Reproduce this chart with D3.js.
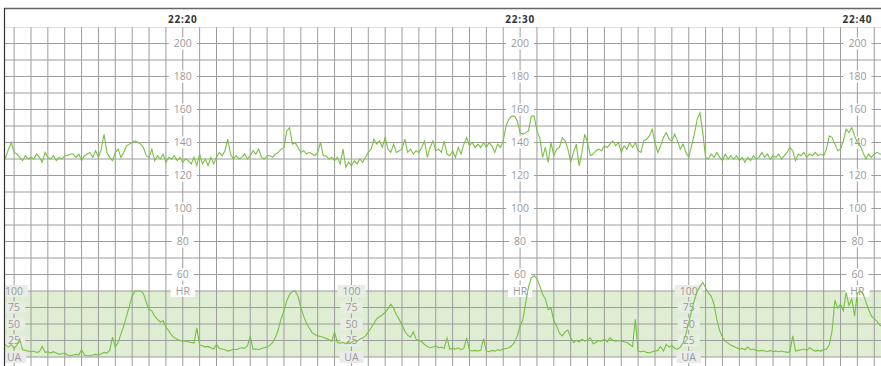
<!DOCTYPE html>
<html><head><meta charset="utf-8">
<script src="https://cdn.jsdelivr.net/npm/d3@7"></script>
<style>html,body{margin:0;padding:0;background:#fff;overflow:hidden}</style>
</head><body>
<svg id="c" width="881" height="366"></svg>
<script>
// ---- data ----
const startTime = "22:14:40";
const stepSeconds = 5;
const fhr = [
132,131,136,140,134,133,131,129,132,130,
131,130,133,131,128,134,131,130,132,129,
131,130,132,132,133,133,131,133,129,132,
133,134,131,135,131,136,145,134,131,129,
134,136,131,134,138,139,140,141,140,139,
137,132,131,136,129,132,130,133,128,131,
130,132,129,131,128,130,129,127,131,126,
133,127,130,126,131,127,131,134,132,135,
142,133,130,132,130,131,133,130,132,135,
133,136,131,130,132,132,131,133,134,136,
137,147,149,139,140,137,134,135,133,134,
133,132,134,140,132,132,130,131,129,131,
127,136,125,128,126,129,127,130,128,131,
134,136,142,139,141,137,143,136,134,139,
134,135,136,142,134,136,133,135,134,137,
141,131,137,141,135,136,134,141,133,132,
135,131,137,133,139,143,138,140,137,139,
137,140,137,140,138,134,139,137,141,150,
154,156,156,153,146,145,146,147,156,156,
147,143,131,137,128,140,132,136,137,143,
141,136,128,134,139,126,134,145,140,132,
133,135,136,135,138,137,139,141,138,140,
134,138,136,140,137,140,135,134,141,142,
144,148,140,134,138,143,146,142,141,145,
141,136,139,134,131,138,145,154,158,146,
131,130,133,131,134,131,129,133,130,132,
130,132,129,131,128,131,129,132,130,131,
134,131,133,130,132,131,133,130,132,134,
137,135,129,133,132,134,131,133,132,134,
132,133,132,136,144,143,139,135,136,141,
148,146,149,144,140,138,134,130,133,131,133,134,133,133];
const ua = [
21,18,15,19,13,18,27,11,10,9,
8,9,7,8,16,7,8,6,8,6,
4,5,6,3,2,3,4,3,11,3,
2,2,3,4,3,5,7,6,10,30,
15,22,35,47,62,77,92,100,100,100,
96,83,72,70,62,57,53,55,45,40,
33,29,27,25,24,24,23,22,21,44,
18,17,15,16,14,12,19,13,12,11,
9,10,12,11,13,14,13,17,31,12,
12,11,13,14,15,18,22,30,42,58,
70,85,95,99,100,92,75,62,51,44,
37,34,32,31,30,28,26,24,38,22,
21,22,20,23,22,25,24,27,29,32,
38,44,51,58,61,64,68,73,80,74,
64,57,49,39,33,30,38,27,25,23,
19,16,14,15,17,14,15,13,29,12,
13,12,14,11,13,29,10,9,10,9,
10,28,9,8,10,9,11,10,12,13,
14,17,22,32,47,57,82,106,120,123,
119,108,95,88,72,74,55,47,36,32,
38,41,29,22,25,23,27,24,26,29,
20,22,25,24,27,23,29,25,24,25,
24,23,22,19,16,57,9,8,9,7,
6,8,9,10,16,9,19,15,17,13,
12,15,22,35,52,70,86,99,107,113,
105,97,92,80,57,40,30,24,21,18,
16,14,12,13,11,15,11,12,10,9,
10,9,8,10,8,9,8,9,8,7,
8,32,9,10,11,12,10,14,11,9,
10,9,11,12,18,40,86,74,80,70,
98,78,88,62,97,100,96,84,72,62,58,54,48,46];
const timeLabels = ["22:20","22:30","22:40"];
const uaAxisTimes = ["22:15","22:25","22:35"];
const hrTicks = [60,80,100,120,140,160,180,200];
const hrAxisName = "HR";
const uaTicks = [25,50,75,100];
const uaAxisName = "UA";
const viewStart = "22:14:42", viewEnd = "22:40:42";

// ---- layout ----
const W = 881, H = 366;
const plotLeft = 4, plotTop = 8, headerBottom = 27;
const parse = d3.timeParse("%H:%M:%S");
const parseHM = d3.timeParse("%H:%M");
const x = d3.scaleTime().domain([parse(viewStart), parse(viewEnd)]).range([plotLeft, W]);
const yHR = d3.scaleLinear().domain([0, 210]).range([headerBottom + 210*1.65, headerBottom]);
const yUA = d3.scaleLinear().domain([0, 100]).range([yHR(10), yHR(50)]);
const t0 = parse(startTime);
const tAt = i => new Date(t0.getTime() + i*stepSeconds*1000);

const svg = d3.select("#c");
const gridColor = "#9c9c9c";
const green = "#78c043";

svg.append("clipPath").attr("id","plot").append("rect")
  .attr("x", plotLeft).attr("y", headerBottom).attr("width", W-plotLeft).attr("height", H-headerBottom);

// UA band
svg.append("rect").attr("x", plotLeft).attr("width", W-plotLeft)
  .attr("y", yUA(100)).attr("height", yUA(0)-yUA(100))
  .attr("fill", "#dfedd3");

// grid
const grid = svg.append("g").attr("clip-path","url(#plot)");
const vt = d3.timeSecond.every(30).range(x.domain()[0], x.domain()[1]);
grid.selectAll("line.v").data(vt).join("line")
  .attr("x1", d=>x(d)).attr("x2", d=>x(d)).attr("y1", headerBottom).attr("y2", H)
  .attr("stroke", gridColor).attr("stroke-width", 1);
grid.selectAll("line.h").data(d3.range(10, 211, 10)).join("line")
  .attr("x1", plotLeft).attr("x2", W).attr("y1", d=>yHR(d)).attr("y2", d=>yHR(d))
  .attr("stroke", d => d===210 ? "#bbb" : gridColor).attr("stroke-width", 1);

// axis labels with boxes
function boxLabel(g, cx, cy, txt, bg) {
  const t = g.append("text").attr("x", cx).attr("y", cy).attr("dy", "0.35em")
    .attr("text-anchor", "middle").attr("fill", "#9a9a9a")
    .style("font", "10.5px 'Open Sans', sans-serif").text(txt);
  const w = t.node().getComputedTextLength();
  g.insert("rect", "text").attr("x", cx - w/2 - 5).attr("y", cy - 6)
    .attr("width", w + 10).attr("height", 12).attr("fill", bg);
}
const labels = svg.append("g").attr("clip-path","url(#plot)");
timeLabels.forEach(tl => {
  const cx = x(parseHM(tl));
  const g = labels.append("g");
  hrTicks.forEach(v => boxLabel(g, cx, yHR(v), String(v), "#fff"));
  boxLabel(g, cx, yHR(50), hrAxisName, "#fff");
});
uaAxisTimes.forEach(tl => {
  const cx = x(parseHM(tl));
  const g = labels.append("g");
  uaTicks.forEach(v => boxLabel(g, cx, yUA(v), String(v), "#e9eee5"));
  boxLabel(g, cx, yUA(0), uaAxisName, "#ebebeb");
});

// traces
const traces = svg.append("g").attr("clip-path","url(#plot)");
traces.append("path").datum(ua)
  .attr("d", d3.line().x((d,i)=>x(tAt(i))).y(d=>yUA(d)))
  .attr("fill","none").attr("stroke", green).attr("stroke-width", 1.1);
traces.append("path").datum(fhr)
  .attr("d", d3.line().x((d,i)=>x(tAt(i))).y(d=>yHR(d)))
  .attr("fill","none").attr("stroke", green).attr("stroke-width", 1.1);

// header
const header = svg.append("g");
timeLabels.forEach(tl => {
  header.append("text").attr("x", x(parseHM(tl))).attr("y", 23)
    .attr("text-anchor", "middle").attr("fill", "#333")
    .style("font", "bold 10px 'Open Sans', sans-serif").style("letter-spacing", "0.8px")
    .text(tl);
});

// border
svg.append("line").attr("x1", plotLeft).attr("x2", W).attr("y1", plotTop+0.5).attr("y2", plotTop+0.5)
  .attr("stroke", "#666").attr("stroke-width", 1.5);
svg.append("line").attr("x1", plotLeft+0.5).attr("x2", plotLeft+0.5).attr("y1", plotTop).attr("y2", H)
  .attr("stroke", "#333").attr("stroke-width", 1.2);
</script>
</body></html>
